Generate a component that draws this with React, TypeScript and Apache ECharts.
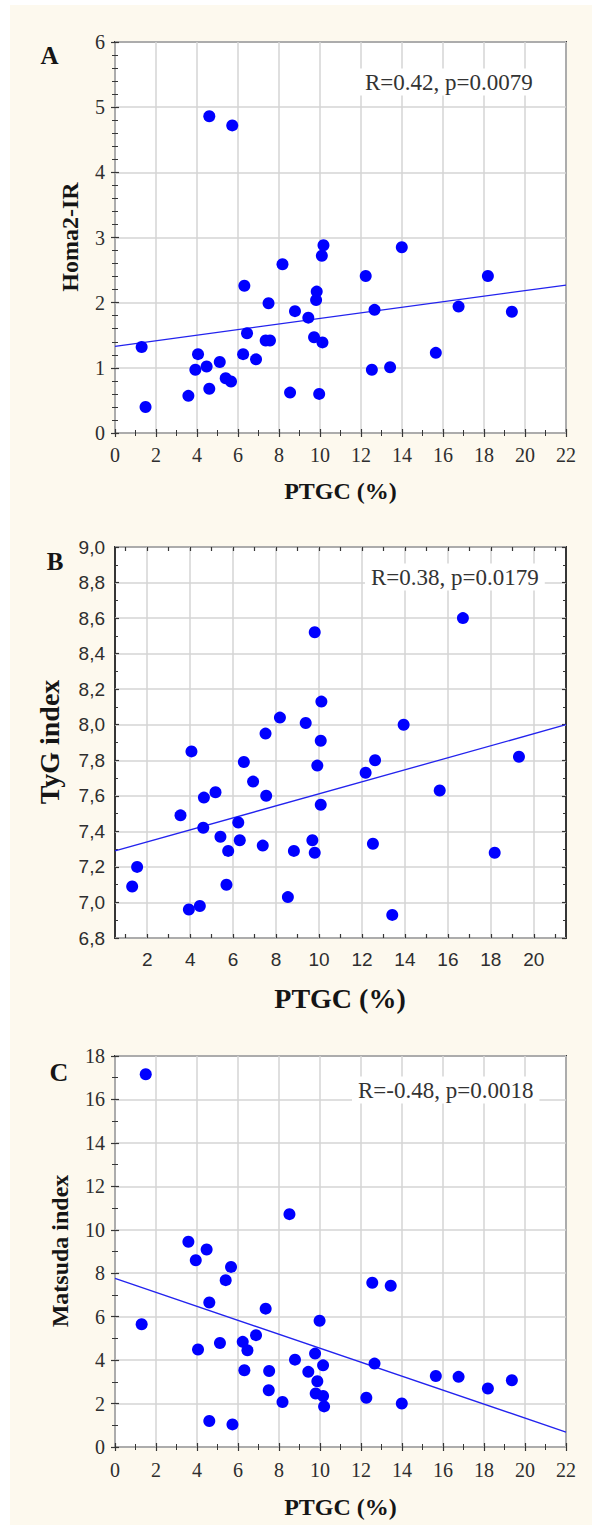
import React, { useEffect, useRef } from 'react';
import * as echarts from 'echarts';

// Panel A: PTGC (%) vs Homa2-IR
const ptgcA = [1.30, 1.49, 4.60, 5.72, 6.31, 7.49, 8.17, 8.78, 6.44, 7.35, 7.56, 4.05, 6.25, 6.88, 5.11, 4.47, 3.92, 5.40, 5.66, 4.60, 3.58, 8.54, 10.17, 10.09, 13.99, 12.23, 18.19, 9.84, 9.81, 9.43, 12.66, 16.76, 19.36, 9.71, 10.12, 15.65, 12.53, 13.42, 9.96];
const homa2IR = [1.32, 0.40, 4.86, 4.72, 2.26, 1.99, 2.59, 1.87, 1.53, 1.42, 1.42, 1.21, 1.21, 1.13, 1.09, 1.02, 0.97, 0.84, 0.79, 0.68, 0.57, 0.62, 2.88, 2.72, 2.85, 2.41, 2.41, 2.17, 2.04, 1.77, 1.89, 1.94, 1.86, 1.47, 1.39, 1.23, 0.97, 1.01, 0.60];
const homaFit = [[0, 1.33], [22, 2.27]];

// Panel B: PTGC (%) vs TyG index
const ptgcB = [1.30, 1.53, 3.94, 4.45, 4.06, 3.55, 4.64, 5.18, 4.61, 5.41, 5.77, 5.69, 6.24, 6.31, 6.50, 6.93, 7.54, 7.51, 7.38, 8.18, 8.83, 8.55, 9.80, 16.70, 10.11, 9.38, 13.94, 10.08, 9.92, 12.61, 12.17, 19.31, 15.62, 10.08, 9.69, 9.80, 12.51, 18.18, 13.41];
const tygIndex = [7.09, 7.20, 6.96, 6.98, 7.85, 7.49, 7.59, 7.62, 7.42, 7.37, 7.29, 7.10, 7.45, 7.35, 7.79, 7.68, 7.60, 7.95, 7.32, 8.04, 7.29, 7.03, 8.52, 8.60, 8.13, 8.01, 8.00, 7.91, 7.77, 7.80, 7.73, 7.82, 7.63, 7.55, 7.35, 7.28, 7.33, 7.28, 6.93];
const tygFit = [[0.5, 7.29], [21.5, 8.0]];
const ptgcTicksB = [2, 4, 6, 8, 10, 12, 14, 16, 18, 20];
const ptgcFrameTicksB = [1, 2, 3, 4, 5, 6, 7, 8, 9, 10, 11, 12, 13, 14, 15, 16, 17, 18, 19, 20, 21];

// Panel C: PTGC (%) vs Matsuda index
const ptgcC = [1.50, 1.30, 3.58, 3.94, 4.47, 4.60, 4.05, 4.60, 5.66, 5.40, 5.12, 5.73, 6.23, 6.46, 6.31, 6.88, 7.35, 7.52, 7.50, 8.17, 8.51, 8.78, 9.98, 9.76, 10.15, 9.43, 9.87, 9.79, 10.15, 10.20, 12.55, 13.45, 12.66, 12.26, 13.99, 15.65, 16.76, 18.19, 19.36];
const matsudaIndex = [17.16, 5.65, 9.45, 8.60, 9.09, 6.65, 4.49, 1.20, 8.29, 7.68, 4.79, 1.04, 4.84, 4.45, 3.53, 5.15, 6.37, 3.50, 2.61, 2.07, 10.72, 4.02, 5.81, 4.30, 3.76, 3.46, 3.03, 2.46, 2.35, 1.87, 7.56, 7.42, 3.84, 2.27, 2.00, 3.27, 3.23, 2.69, 3.07];
const matsudaFit = [[0, 7.76], [22, 0.69]];

const SERIF = '"Liberation Serif", "Times New Roman", serif';
const SANS = '"Liberation Sans", Arial, sans-serif';
const FRAME = '#363636';
const GRID_LINE = '#d4d4d4';
const LABEL = '#2e2e2e';
const TITLE = '#151515';
const DOT = '#0000ff';
const FIT = '#2323ee';

const GRID_LEFT = 115;
const GRID_W = 451;
const GRID_H = 391;
const TOPS = [42, 547, 1056];

const zip = (xs: number[], ys: number[]) => xs.map((x, i) => [x, ys[i]]);

const tickStyle = { show: true, inside: true, length: 4, lineStyle: { color: FRAME, width: 1.2 } };
const minorStyle = (n: number) => ({ show: true, splitNumber: n, length: 3, lineStyle: { color: FRAME, width: 1 } });
const splitStyle = { show: true, lineStyle: { color: GRID_LINE, width: 1.5 } };

function labelStyle(family: string, size: number, margin: number, extra: any = {}) {
  return { show: true, margin, fontFamily: family, fontSize: size, color: LABEL, ...extra };
}

function txt(x: number, y: number, text: string, font: string, extra: any = {}) {
  return {
    type: 'text',
    x,
    y,
    z: 100,
    ...extra,
    style: { text, font, fill: TITLE, align: 'center', verticalAlign: 'middle', ...(extra.style || {}) },
  };
}

function buildOption() {
  const grids = TOPS.map((top) => ({
    left: GRID_LEFT,
    top,
    width: GRID_W,
    height: GRID_H,
    show: true,
    backgroundColor: '#ffffff',
    borderColor: FRAME,
    borderWidth: 2,
  }));

  const xAxis: any[] = [
    // A
    {
      gridIndex: 0, type: 'value', position: 'bottom', min: 0, max: 22, interval: 2,
      axisLine: { show: false }, axisTick: tickStyle, minorTick: minorStyle(2),
      axisLabel: labelStyle(SERIF, 20, 12), splitLine: splitStyle,
    },
    {
      gridIndex: 0, type: 'value', position: 'top', min: 0, max: 22, interval: 2,
      axisLine: { show: false }, axisTick: tickStyle, minorTick: minorStyle(2),
      axisLabel: { show: false }, splitLine: { show: false },
    },
    // B
    {
      gridIndex: 1, type: 'value', position: 'bottom', min: 0.5, max: 21.5,
      axisLine: { show: false },
      axisTick: { show: false, customValues: ptgcTicksB },
      axisLabel: labelStyle(SANS, 19, 12, { customValues: ptgcTicksB }),
      splitLine: splitStyle,
    },
    {
      gridIndex: 1, type: 'value', position: 'bottom', min: 0.5, max: 21.5,
      axisLine: { show: false },
      axisTick: { ...tickStyle, customValues: ptgcFrameTicksB },
      axisLabel: { show: false }, splitLine: { show: false },
    },
    {
      gridIndex: 1, type: 'value', position: 'top', min: 0.5, max: 21.5,
      axisLine: { show: false },
      axisTick: { ...tickStyle, customValues: ptgcFrameTicksB },
      axisLabel: { show: false }, splitLine: { show: false },
    },
    // C
    {
      gridIndex: 2, type: 'value', position: 'bottom', min: 0, max: 22, interval: 2,
      axisLine: { show: false }, axisTick: tickStyle, minorTick: minorStyle(2),
      axisLabel: labelStyle(SERIF, 20, 13), splitLine: splitStyle,
    },
    {
      gridIndex: 2, type: 'value', position: 'top', min: 0, max: 22, interval: 2,
      axisLine: { show: false }, axisTick: tickStyle, minorTick: minorStyle(2),
      axisLabel: { show: false }, splitLine: { show: false },
    },
  ];

  const yAxis: any[] = [
    // A
    {
      gridIndex: 0, type: 'value', position: 'left', min: 0, max: 6, interval: 1,
      axisLine: { show: false }, axisTick: tickStyle, minorTick: minorStyle(5),
      axisLabel: labelStyle(SERIF, 20, 10), splitLine: splitStyle,
    },
    {
      gridIndex: 0, type: 'value', position: 'right', min: 0, max: 6, interval: 1,
      axisLine: { show: false }, axisTick: tickStyle, minorTick: minorStyle(5),
      axisLabel: { show: false }, splitLine: { show: false },
    },
    // B
    {
      gridIndex: 1, type: 'value', position: 'left', min: 6.8, max: 9.0, interval: 0.2,
      axisLine: { show: false }, axisTick: tickStyle, minorTick: minorStyle(2),
      axisLabel: labelStyle(SANS, 19, 10, {
        formatter: (v: number) => v.toFixed(1).replace('.', ','),
      }),
      splitLine: splitStyle,
    },
    {
      gridIndex: 1, type: 'value', position: 'right', min: 6.8, max: 9.0, interval: 0.2,
      axisLine: { show: false }, axisTick: tickStyle, minorTick: minorStyle(2),
      axisLabel: { show: false }, splitLine: { show: false },
    },
    // C
    {
      gridIndex: 2, type: 'value', position: 'left', min: 0, max: 18, interval: 2,
      axisLine: { show: false }, axisTick: tickStyle, minorTick: minorStyle(2),
      axisLabel: labelStyle(SERIF, 20, 10), splitLine: splitStyle,
    },
    {
      gridIndex: 2, type: 'value', position: 'right', min: 0, max: 18, interval: 2,
      axisLine: { show: false }, axisTick: tickStyle, minorTick: minorStyle(2),
      axisLabel: { show: false }, splitLine: { show: false },
    },
  ];

  const fitSeries = (data: number[][], xi: number, yi: number) => ({
    type: 'line', xAxisIndex: xi, yAxisIndex: yi, data, symbol: 'none', z: 2,
    lineStyle: { color: FIT, width: 1.3 }, silent: true,
  });
  const dotSeries = (data: number[][], xi: number, yi: number) => ({
    type: 'scatter', xAxisIndex: xi, yAxisIndex: yi, data, symbol: 'circle', symbolSize: 12, z: 3,
    itemStyle: { color: DOT, opacity: 1 },
  });

  const series = [
    fitSeries(homaFit, 0, 0), dotSeries(zip(ptgcA, homa2IR), 0, 0),
    fitSeries(tygFit, 2, 2), dotSeries(zip(ptgcB, tygIndex), 2, 2),
    fitSeries(matsudaFit, 5, 4), dotSeries(zip(ptgcC, matsudaIndex), 5, 4),
  ];

  const statBox = (x: number, y: number, text: string) => ({
    type: 'text', x, y, z: 100,
    style: {
      text, font: `23px ${SERIF}`, fill: '#333333', align: 'left', verticalAlign: 'middle',
      backgroundColor: '#ffffff', padding: [2, 6],
    },
  });

  const graphic = [
    { type: 'rect', z: -100, shape: { x: 10, y: 5, width: 582, height: 1520 }, style: { fill: '#fdf9ee' } },
    txt(49.5, 55, 'A', `bold 25px ${SERIF}`),
    txt(55, 561, 'B', `bold 25px ${SERIF}`),
    txt(59, 1072, 'C', `bold 26px ${SERIF}`),
    txt(70, 237, 'Homa2-IR', `bold 24px ${SERIF}`, { rotation: Math.PI / 2 }),
    txt(49, 742, 'TyG index', `bold 28px ${SERIF}`, { rotation: Math.PI / 2 }),
    txt(60, 1251, 'Matsuda index', `bold 24px ${SERIF}`, { rotation: Math.PI / 2 }),
    txt(340.5, 491, 'PTGC (%)', `bold 24px ${SERIF}`),
    txt(340, 998, 'PTGC (%)', `bold 28px ${SERIF}`),
    txt(340.5, 1507, 'PTGC (%)', `bold 24px ${SERIF}`),
    statBox(359, 82, 'R=0.42, p=0.0079'),
    statBox(365, 577, 'R=0.38, p=0.0179'),
    statBox(352, 1090, 'R=-0.48, p=0.0018'),
  ];

  return {
    animation: false,
    backgroundColor: '#ffffff',
    grid: grids,
    xAxis,
    yAxis,
    series,
    graphic,
  };
}

export default function App() {
  const ref = useRef<HTMLDivElement>(null);

  useEffect(() => {
    if (!ref.current) return;
    const chart = echarts.init(ref.current, undefined, { renderer: 'svg' });
    chart.setOption(buildOption() as any);
    return () => {
      chart.dispose();
    };
  }, []);

  return (
    <div
      ref={ref}
      style={{ position: 'absolute', left: 0, top: 0, width: 592, height: 1526 }}
    />
  );
}
